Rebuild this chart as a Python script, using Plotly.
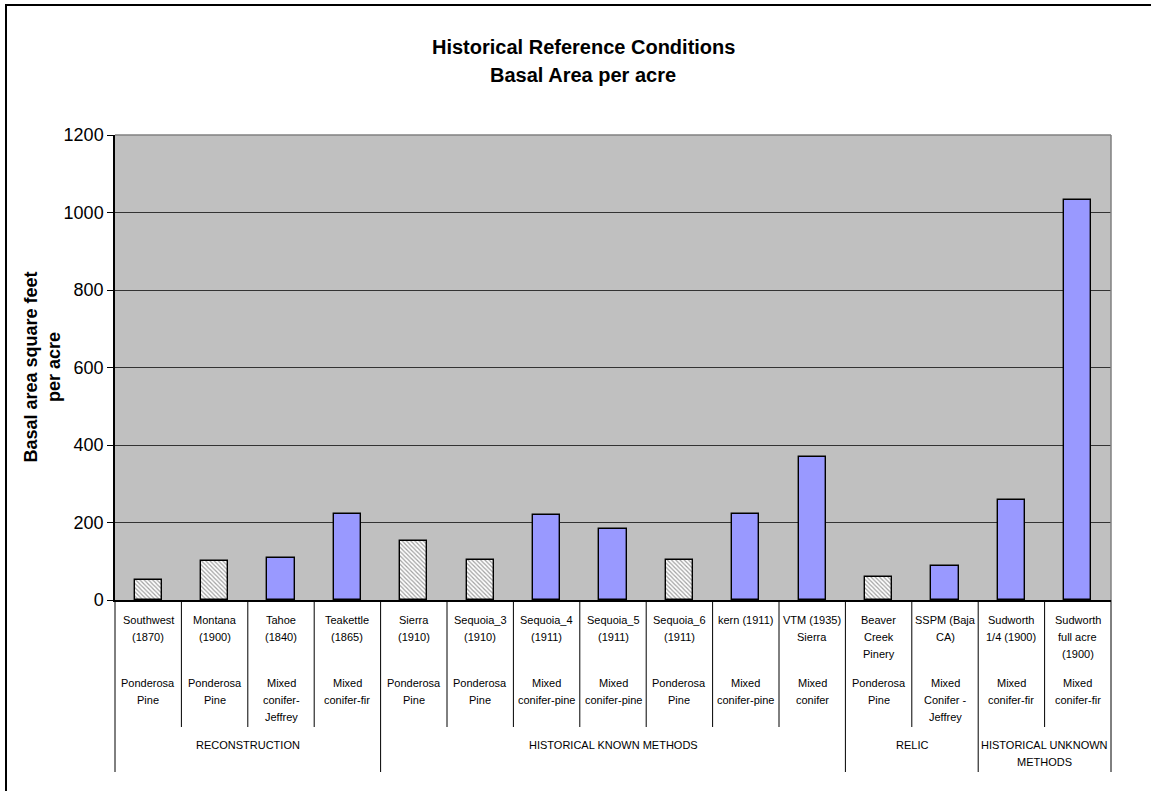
import plotly.graph_objects as go

# Site / period labels (first text row under each bar)
sites = [
    "Southwest<br>(1870)", "Montana<br>(1900)", "Tahoe<br>(1840)", "Teakettle<br>(1865)",
    "Sierra<br>(1910)", "Sequoia_3<br>(1910)", "Sequoia_4<br>(1911)", "Sequoia_5<br>(1911)",
    "Sequoia_6<br>(1911)", "kern (1911)", "VTM (1935)<br>Sierra",
    "Beaver<br>Creek<br>Pinery", "SSPM (Baja<br>CA)",
    "Sudworth<br>1/4 (1900)", "Sudworth<br>full acre<br>(1900)",
]
# Forest type (second text row)
forest_types = [
    "Ponderosa<br>Pine", "Ponderosa<br>Pine", "Mixed<br>conifer-<br>Jeffrey", "Mixed<br>conifer-fir",
    "Ponderosa<br>Pine", "Ponderosa<br>Pine", "Mixed<br>conifer-pine", "Mixed<br>conifer-pine",
    "Ponderosa<br>Pine", "Mixed<br>conifer-pine", "Mixed<br>conifer",
    "Ponderosa<br>Pine", "Mixed<br>Conifer -<br>Jeffrey",
    "Mixed<br>conifer-fir", "Mixed<br>conifer-fir",
]
# Method groups and how many sites each spans
groups = ["RECONSTRUCTION", "HISTORICAL KNOWN METHODS", "RELIC", "HISTORICAL UNKNOWN<br>METHODS"]
group_sizes = [4, 7, 2, 2]
# Basal area, square feet per acre
basal_area = [52, 101, 109, 223, 153, 103, 220, 182, 102, 222, 368, 60, 88, 258, 1031]

y_ticks = [0, 200, 400, 600, 800, 1000, 1200]

W, H = 1151, 791
L, R, T, B = 115, 40, 135, 191
plot_h = H - T - B
plot_w = W - L - R
n = len(sites)

LABEL_FONT = dict(family="Liberation Sans, Arial", size=11, color="#000000")
LINE_STEP = 17  # pixel spacing between label lines


def py(px):
    """pixel row -> paper y"""
    return (H - B - px) / plot_h


def pxx(px):
    return (px - L) / plot_w


is_pine = [ft.startswith("Ponderosa") for ft in forest_types]
colors = ["#FFFFFF" if p else "#9999FF" for p in is_pine]
shapes_pat = ["\\" if p else "" for p in is_pine]

fig = go.Figure()
fig.add_trace(go.Bar(
    x=list(range(n)),
    y=basal_area,
    width=0.41,
    marker=dict(
        color=colors,
        line=dict(color="#000000", width=1.4),
        pattern=dict(shape=shapes_pat, fgcolor="#a0a0a0", bgcolor="#FFFFFF", size=3, solidity=0.4),
    ),
    hoverinfo="x+y",
    showlegend=False,
))

annotations = []
shapes = []


def add_lines(text, xp, first_row):
    # each line placed separately so the row spacing is fixed
    for j, line in enumerate(text.split("<br>")):
        annotations.append(dict(
            x=xp, y=py(first_row + LINE_STEP * j), xref="paper", yref="paper", text=line,
            showarrow=False, xanchor="center", yanchor="middle", font=LABEL_FONT,
        ))


# per-site labels
for i in range(n):
    xp = (i + 0.5) / n
    add_lines(sites[i], xp, 620)
    add_lines(forest_types[i], xp, 683)

# separators between sites and group labels
bounds = [0]
for s in group_sizes:
    bounds.append(bounds[-1] + s)
for k in range(n + 1):
    long_line = k in bounds
    shapes.append(dict(
        type="line", xref="paper", yref="paper",
        x0=k / n, x1=k / n, y0=0, y1=py(H - B + (172 if long_line else 127)),
        line=dict(color="#000000", width=1),
    ))
for g, (a, b) in enumerate(zip(bounds[:-1], bounds[1:])):
    add_lines(groups[g], (a + b) / 2 / n, 745)

# gray plot-area border on top and right
shapes.append(dict(type="line", xref="paper", yref="paper", x0=0, x1=1, y0=1, y1=1,
                   line=dict(color="#808080", width=1.5)))
shapes.append(dict(type="line", xref="paper", yref="paper", x0=1, x1=1, y0=0, y1=1,
                   line=dict(color="#808080", width=1.5)))

# outer chart frame
shapes.append(dict(type="rect", xref="paper", yref="paper",
                   x0=pxx(6), x1=pxx(1162), y0=py(5), y1=py(800),
                   line=dict(color="#000000", width=2), fillcolor="rgba(0,0,0,0)"))

# y-axis title (two lines, rotated)
annotations.append(dict(
    x=pxx(42), y=0.5, xref="paper", yref="paper",
    text="Basal area square feet<br>per acre", textangle=-90, showarrow=False,
    xanchor="center", yanchor="middle", align="center",
    font=dict(family="Liberation Sans, Arial", size=18, color="#000000", weight="bold"),
))

# two-line bold title
title_lines = ["Historical Reference Conditions", "Basal Area per acre"]
for j, t in enumerate(title_lines):
    annotations.append(dict(
        x=pxx(583), y=py(47 + 28 * j), xref="paper", yref="paper", text="<b>%s</b>" % t,
        showarrow=False, xanchor="center", yanchor="middle",
        font=dict(family="Liberation Sans, Arial", size=20, color="#000000"),
    ))

fig.update_layout(
    width=W, height=H,
    margin=dict(l=L, r=R, t=T, b=B, pad=0),
    paper_bgcolor="#FFFFFF",
    plot_bgcolor="#C0C0C0",
    xaxis=dict(
        range=[-0.5, n - 0.5], showticklabels=False, ticks="", showgrid=False,
        showline=True, linecolor="#000000", linewidth=1.5, zeroline=False, fixedrange=True,
    ),
    yaxis=dict(
        range=[0, 1200], tickvals=y_ticks, ticktext=[str(v) for v in y_ticks],
        showgrid=True, gridcolor="#333333", gridwidth=1,
        showline=True, linecolor="#000000", linewidth=1.5,
        ticks="outside", ticklen=6, tickcolor="#000000", tickwidth=1,
        tickfont=dict(family="Liberation Sans, Arial", size=18, color="#000000"),
        zeroline=False, fixedrange=True,
    ),
    bargap=0,
    annotations=annotations,
    shapes=shapes,
    font=dict(family="Liberation Sans, Arial", color="#000000"),
)

fig.write_html("out.html")
